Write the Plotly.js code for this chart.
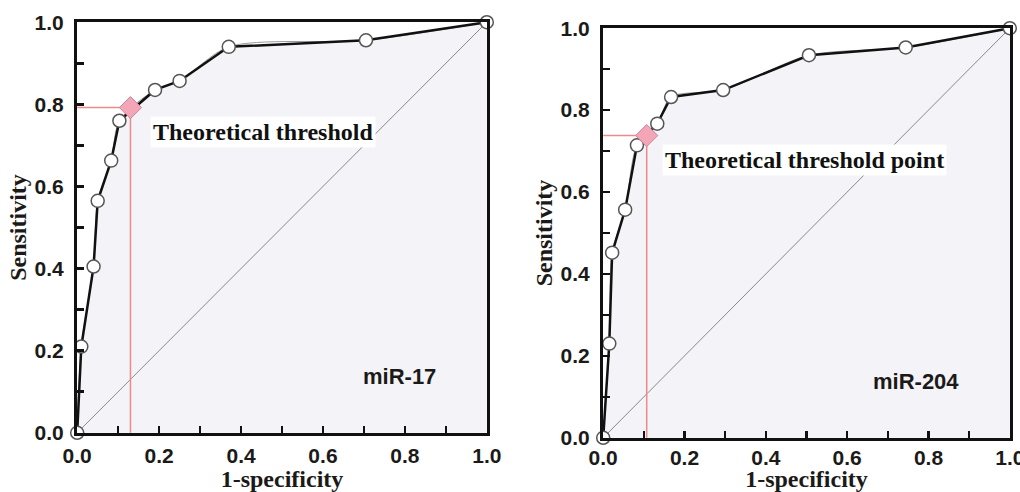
<!DOCTYPE html>
<html>
<head>
<meta charset="utf-8">
<script src="https://cdn.plot.ly/plotly-3.0.1.min.js"></script>
<style>html,body{margin:0;padding:0;background:#fff;}#chart{width:1020px;height:492px;}</style>
</head>
<body>
<div id="chart"></div>
<script>
// ---- Data ----
const fprMiR17 = [0, 0.01, 0.04, 0.05, 0.083, 0.103, 0.19, 0.25, 0.37, 0.705, 1];
const tprMiR17 = [0, 0.21, 0.405, 0.565, 0.663, 0.76, 0.835, 0.857, 0.94, 0.956, 1];
const thrMiR17 = [0.13, 0.792];

const fprMiR204 = [0, 0.015, 0.022, 0.054, 0.083, 0.133, 0.167, 0.295, 0.506, 0.744, 1];
const tprMiR204 = [0, 0.23, 0.452, 0.557, 0.714, 0.767, 0.832, 0.849, 0.934, 0.953, 1];
const thrMiR204 = [0.107, 0.738];

const panelLabels = ['miR-17', 'miR-204'];
const thresholdLabels = ['Theoretical threshold', 'Theoretical threshold point'];
const tickVals = [0, 0.2, 0.4, 0.6, 0.8, 1.0];
const tickText = ['0.0', '0.2', '0.4', '0.6', '0.8', '1.0'];
const xTitle = '1-specificity';
const yTitle = 'Sensitivity';

// ---- Build traces ----
function panel(fpr, tpr, thr, xa, ya) {
  return [
    {x: fpr, y: tpr, xaxis: xa, yaxis: ya, mode: 'lines', fill: 'tozeroy',
     fillcolor: '#f3f3f8', line: {width: 0, color: 'rgba(0,0,0,0)'}, hoverinfo: 'skip', showlegend: false},
    {x: [0, 1], y: [0, 1], xaxis: xa, yaxis: ya, mode: 'lines',
     line: {color: '#8a8a8a', width: 1}, showlegend: false},
    {x: [0, thr[0], thr[0]], y: [thr[1], thr[1], 0], xaxis: xa, yaxis: ya, mode: 'lines',
     line: {color: '#f08a8a', width: 1.5}, showlegend: false},
    {x: fpr, y: tpr, xaxis: xa, yaxis: ya, mode: 'lines',
     line: {color: '#9a9a9a', width: 1, shape: 'spline', smoothing: 0.8}, showlegend: false},
    {x: fpr, y: tpr, xaxis: xa, yaxis: ya, mode: 'lines+markers', cliponaxis: false,
     line: {color: '#111', width: 2.5},
     marker: {symbol: 'circle', size: 13, color: '#fff', line: {color: '#555', width: 1.5}},
     showlegend: false},
    {x: [thr[0]], y: [thr[1]], xaxis: xa, yaxis: ya, mode: 'markers', cliponaxis: false,
     marker: {symbol: 'diamond', size: 17, color: '#f4a5b7', line: {color: '#c58797', width: 1}},
     showlegend: false}
  ];
}

const data = [].concat(
  panel(fprMiR17, tprMiR17, thrMiR17, 'x', 'y'),
  panel(fprMiR204, tprMiR204, thrMiR204, 'x2', 'y2')
);

const boldText = tickText.map(t => '<b>' + t + '</b>');
const tickFont = {family: 'Liberation Sans', size: 21, weight: 700, color: '#1c1a18'};
const titleFont = {family: 'Liberation Serif', size: 24, weight: 700, color: '#1c1a18'};

function xaxis(domain, anchor, standoff, labelStandoff) {
  return {domain: domain, anchor: anchor, range: [-0.0005, 1.0005], tickvals: tickVals, ticktext: boldText,
    ticks: 'inside', ticklen: 7, tickwidth: 2.5, tickcolor: '#111', ticklabeloverflow: 'allow',
    ticklabelstandoff: labelStandoff,
    minor: {dtick: 0.1, ticks: 'inside', ticklen: 7, tickwidth: 2.5, tickcolor: '#111'},
    showline: true, linewidth: 3, linecolor: '#111', mirror: true, showgrid: false, zeroline: false,
    tickfont: tickFont, title: {text: '<b>' + xTitle + '</b>', font: titleFont, standoff: standoff}, fixedrange: true};
}
function yaxis(domain, anchor) {
  return {domain: domain, anchor: anchor, range: [-0.0005, 1.0005], tickvals: tickVals, ticktext: boldText,
    ticks: 'inside', ticklen: 7, tickwidth: 2.5, tickcolor: '#111', ticklabeloverflow: 'allow',
    minor: {dtick: 0.1, ticks: 'inside', ticklen: 7, tickwidth: 2.5, tickcolor: '#111'},
    showline: true, linewidth: 3, linecolor: '#111', mirror: true, showgrid: false, zeroline: false,
    tickfont: tickFont, ticklabelstandoff: 6, title: {text: '<b>' + yTitle + '</b>', font: titleFont, standoff: 2}, fixedrange: true};
}

const W = 1020, H = 492, MB = 6;
const PH = H - MB;
function yDom(topPx, botPx) { return [(PH - botPx) / PH, (PH - topPx) / PH]; }
const layout = {
  width: W, height: H,
  margin: {l: 0, r: 0, t: 0, b: MB},
  paper_bgcolor: '#fff', plot_bgcolor: '#fff',
  showlegend: false,
  xaxis: xaxis([77 / W, 487 / W], 'y', 8, 2),
  yaxis: yaxis(yDom(22, 433), 'x'),
  xaxis2: xaxis([603 / W, 1010 / W], 'y2', 12, -1),
  yaxis2: yaxis(yDom(28, 438), 'x2'),
  annotations: [
    {xref: 'x', yref: 'y', x: 0.178, y: 0.732, xanchor: 'left', yanchor: 'middle', showarrow: false,
     text: '<b>' + thresholdLabels[0] + '</b>', bgcolor: '#fff', borderpad: 2,
     font: {family: 'Liberation Serif', size: 24, color: '#111'}},
    {xref: 'x2', yref: 'y2', x: 0.145, y: 0.678, xanchor: 'left', yanchor: 'middle', showarrow: false,
     text: '<b>' + thresholdLabels[1] + '</b>', bgcolor: '#fff', borderpad: 2,
     font: {family: 'Liberation Serif', size: 24, color: '#111'}},
    {xref: 'x', yref: 'y', x: 0.788, y: 0.136, xanchor: 'center', yanchor: 'middle', showarrow: false,
     text: '<b>' + panelLabels[0] + '</b>', font: {family: 'Liberation Sans', size: 22, color: '#1c1a18'}},
    {xref: 'x2', yref: 'y2', x: 0.769, y: 0.137, xanchor: 'center', yanchor: 'middle', showarrow: false,
     text: '<b>' + panelLabels[1] + '</b>', font: {family: 'Liberation Sans', size: 22, color: '#1c1a18'}}
  ]
};

Plotly.newPlot('chart', data, layout, {displayModeBar: false, staticPlot: true});
</script>
</body>
</html>
